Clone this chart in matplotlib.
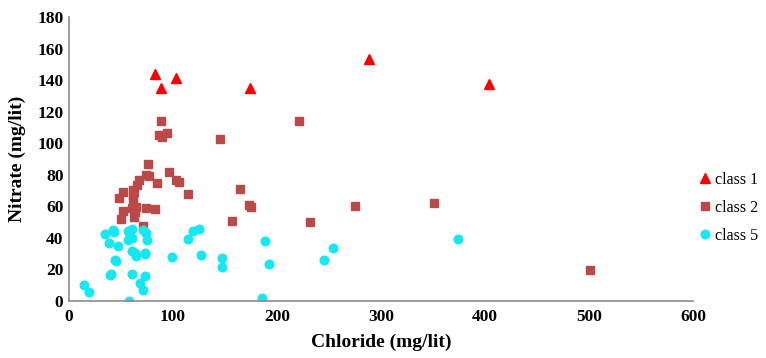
import matplotlib
matplotlib.use("Agg")
import matplotlib.pyplot as plt

# class 1 (triangles)
c1_x = [82.7, 102.6, 88.8, 174.3, 288.5, 403.5]
c1_y = [143.9, 141.3, 135.0, 135.0, 153.4, 137.5]

# class 2 (squares)
c2_x = [88.1, 87.0, 89.0, 94.5, 145.5, 220.8, 76.0, 74.5, 76.5, 67.6, 65.4, 61.5, 62.5,
        52.2, 48.1, 61.2, 84.3, 96.5, 102.9, 105.8, 114.4, 164.7, 172.8, 174.7, 156.7,
        232.0, 274.7, 350.7, 501.0, 51.6, 50.0, 60.3, 64.4, 63.5, 62.2, 73.7, 82.4, 71.5, 61.2]
c2_y = [114.1, 105.2, 104.0, 106.5, 102.9, 114.0, 87.0, 79.8, 79.5, 76.9, 73.5, 70.3, 69.3,
        69.3, 65.5, 64.4, 74.8, 81.5, 76.5, 75.6, 67.8, 71.0, 61.0, 59.4, 50.5,
        49.8, 60.4, 62.1, 19.4, 57.2, 51.8, 58.7, 59.8, 56.6, 53.4, 58.7, 58.5, 47.7, 67.2]

# class 5 (circles)
c5_x = [14.4, 19.2, 58.0, 35.0, 42.0, 43.6, 38.8, 47.1, 44.5, 40.4, 39.4, 60.3, 57.0,
        60.3, 56.4, 60.9, 64.1, 60.9, 71.5, 74.3, 74.7, 72.8, 72.8, 68.6, 70.8, 99.0,
        114.7, 118.9, 125.0, 126.6, 146.8, 146.8, 188.2, 192.6, 185.9, 253.8, 245.2,
        374.3, 63.5, 73.0, 45.2, 58.5]
c5_y = [10.1, 5.7, 0.2, 42.6, 45.0, 43.5, 36.6, 34.7, 26.0, 17.1, 16.3, 45.8, 44.4,
        39.9, 38.7, 31.9, 28.7, 17.1, 45.0, 42.9, 38.7, 29.8, 15.6, 11.6, 7.0, 27.7,
        39.1, 44.2, 45.4, 29.2, 27.5, 21.7, 38.2, 23.7, 1.9, 33.6, 26.0,
        39.1, 30.2, 30.2, 25.5, 42.0]

x_ticks = [0, 100, 200, 300, 400, 500, 600]
y_ticks = [0, 20, 40, 60, 80, 100, 120, 140, 160, 180]

serif = ["Liberation Serif", "DejaVu Serif"]

fig = plt.figure(figsize=(7.66, 3.58), dpi=100)
ax = fig.add_axes([69/766, 1-301/358, (693-69)/766, (301-17)/358])

ax.plot(c1_x, c1_y, linestyle="none", marker="^", ms=7.5, color="#FF0000", label="class 1")
ax.plot(c2_x, c2_y, linestyle="none", marker="s", ms=6.2, color="#B94A48", label="class 2")
ax.plot(c5_x, c5_y, linestyle="none", marker="o", ms=6.2, color="#16E8F2", label="class 5")

ax.set_xlim(0, 600)
ax.set_ylim(0, 180)
ax.set_xticks(x_ticks)
ax.set_yticks(y_ticks)
ax.set_xticklabels([str(v) for v in x_ticks], fontfamily=serif, fontweight="bold", fontsize=12.5)
ax.set_yticklabels([str(v) for v in y_ticks], fontfamily=serif, fontweight="bold", fontsize=12.5)
ax.tick_params(axis="x", length=0, pad=6)
ax.tick_params(axis="y", length=0, pad=4)

for s in ["top", "right"]:
    ax.spines[s].set_visible(False)
for s in ["left", "bottom"]:
    ax.spines[s].set_color("#8C8C8C")
    ax.spines[s].set_linewidth(1.2)

ax.set_xlabel("Chloride (mg/lit)", fontfamily=serif, fontweight="bold", fontsize=14, labelpad=6)
ax.set_ylabel("Nitrate (mg/lit)", fontfamily=serif, fontweight="bold", fontsize=14, labelpad=8)

leg = fig.legend(loc="center left", bbox_to_anchor=(0.915, 1-208/358), frameon=False,
                 prop={"family": serif, "size": 11.5}, handlelength=0.5, handletextpad=0.4,
                 labelspacing=0.75, borderpad=0, borderaxespad=0)

fig.savefig("out.png", dpi=100)
